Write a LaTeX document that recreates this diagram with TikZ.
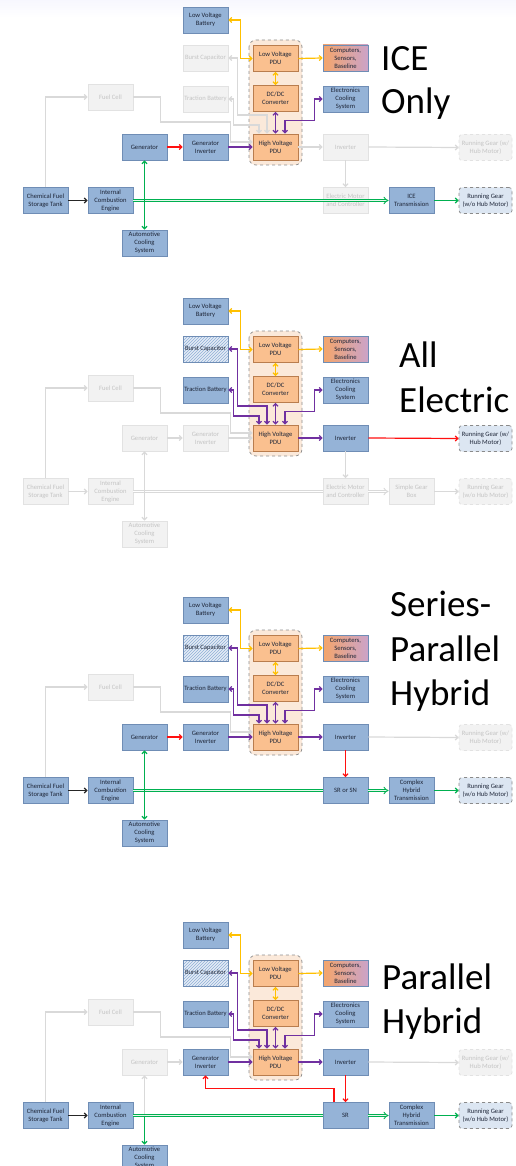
\documentclass[tikz,border=0pt]{standalone}
\usepackage{fontspec}
\setmainfont{Carlito}
\usetikzlibrary{arrows.meta,patterns}
\definecolor{actfill}{HTML}{95B3D7}
\definecolor{actdraw}{HTML}{6F8DB5}
\definecolor{txt}{HTML}{1E2638}
\definecolor{infill}{HTML}{F2F2F2}
\definecolor{indraw}{HTML}{E2E2E2}
\definecolor{intxt}{HTML}{C4C4C4}
\definecolor{orfill}{HTML}{FAC08F}
\definecolor{ordraw}{HTML}{B97D4E}
\definecolor{contfill}{HTML}{FBE9DA}
\definecolor{contdraw}{HTML}{8E8E8E}
\definecolor{rgfill}{HTML}{DCE6F2}
\definecolor{rgdraw}{HTML}{8A8A8A}
\definecolor{hatchbg}{HTML}{E4ECF6}
\definecolor{hatchcol}{HTML}{8FAFD6}
\definecolor{cyel}{HTML}{FFC000}
\definecolor{cpur}{HTML}{7030A0}
\definecolor{cred}{HTML}{FF1010}
\definecolor{cgrn}{HTML}{00B050}
\definecolor{cgrnl}{HTML}{E6F7EC}
\definecolor{cgry}{HTML}{D9D9D9}
\definecolor{cblk}{HTML}{262626}
\definecolor{gradL}{HTML}{F4A56B}
\definecolor{gradR}{HTML}{CBA3C8}
\newcommand\boxfont{\fontsize{6.6}{7.9}\selectfont}
\newcommand\labfont{\fontsize{37}{44}\selectfont}
\tikzset{
  box/.style={draw, minimum width=45pt, minimum height=26pt, inner sep=0pt, align=center, font=\boxfont, line width=0.7pt},
  act/.style={box, fill=actfill, draw=actdraw, text=txt},
  inact/.style={box, fill=infill, draw=indraw, text=intxt},
  orng/.style={box, fill=orfill, draw=ordraw, text=txt},
  grad/.style={box, left color=gradL, right color=gradR, draw=actdraw, text=txt},
  hatch/.style={box, draw=actdraw, text=txt, preaction={fill=hatchbg}, pattern=north east lines, pattern color=hatchcol},
  rgA/.style={box, minimum width=53pt, rounded corners=3pt, dashed, fill=rgfill, draw=rgdraw, text=txt},
  rgI/.style={box, minimum width=53pt, rounded corners=3pt, dashed, fill=infill, draw=indraw, text=intxt},
  cont/.style={rounded corners=7pt, dashed, fill=contfill, draw=contdraw, line width=0.7pt},
  lab/.style={anchor=base west, inner sep=0pt, font=\labfont, text=black},
  con/.style={line width=1.2pt},
  yel/.style={con, draw=cyel},
  pur/.style={con, draw=cpur},
  rd/.style={con, draw=cred},
  grn/.style={con, draw=cgrn},
  gry/.style={con, draw=cgry},
  blk/.style={con, draw=cblk},
  gdbl/.style={line width=0.9pt, draw=cgrn, double=cgrnl, double distance=1.6pt},
  ydbl/.style={line width=0.9pt, draw=cgry, double=white, double distance=1.6pt},
  >={Straight Barb[length=2.6pt,width=5pt]},
  slvb/.style={act}, sbc/.style={hatch}, stb/.style={act}, sfc/.style={inact},
  sgen/.style={act}, sgi/.style={act}, secs/.style={act}, sinv/.style={act},
  srgh/.style={rgI}, scf/.style={act}, sice/.style={act}, smot/.style={act},
  strans/.style={act}, srgo/.style={rgA}, sacs/.style={act}
}
\newcommand\panelnodes[3]{%
  \draw[cont] (249,40) rectangle (302,165);
  \node[slvb] (#1lvb) at (205.5,20) {Low Voltage\\Battery};
  \node[sbc] (#1bc) at (205.5,58) {Burst Capacitor};
  \node[stb] (#1tb) at (205.5,99) {Traction Battery};
  \node[sfc] (#1fc) at (110.5,97) {Fuel Cell};
  \node[sgen] (#1gen) at (144.5,147) {Generator};
  \node[sgi] (#1gi) at (205.5,147) {Generator\\Inverter};
  \node[orng] (#1lvp) at (275.5,58.5) {Low Voltage\\PDU};
  \node[orng] (#1dc) at (275.5,98.5) {DC/DC\\Converter};
  \node[orng] (#1hv) at (275.5,147) {High Voltage\\PDU};
  \node[grad] (#1comp) at (345.5,58) {Computers,\\Sensors,\\Baseline};
  \node[secs] (#1ecs) at (345.5,99) {Electronics\\Cooling\\System};
  \node[sinv] (#1inv) at (345.5,147) {Inverter};
  \node[srgh] (#1rgh) at (485.5,147.5) {Running Gear (w/\\Hub Motor)};
  \node[scf] (#1cf) at (45.5,200.5) {Chemical Fuel\\Storage Tank};
  \node[sice] (#1ice) at (110.5,200.5) {Internal\\Combustion\\Engine};
  \node[smot] (#1mot) at (345.5,200.5) {#2};
  \node[strans] (#1tr) at (411.5,200.5) {#3};
  \node[srgo] (#1rgo) at (485.5,200.5) {Running Gear\\(w/o Hub Motor)};
  \node[sacs] (#1acs) at (144.5,243) {Automotive\\Cooling\\System};
  \draw[yel,<->] (#1lvb.east) -- ++(12,0) |- (#1lvp.west);
  \draw[yel,->] (#1lvp.east) -- (#1comp.west);
  \draw[yel,<->] (#1lvp.south) -- (#1dc.north);
  \draw[pur,<->] (#1dc.south) -- (#1hv.north);
  \draw[pur,<->] ([xshift=9.5pt]#1hv.north) -- ++(0,-13) -- ++(29.5,0) |- (#1ecs.west);
  \draw[gry,->] (#1cf.north) |- (#1fc.west);
  \draw[gry,->] (#1fc.east) -- ++(27,0) -- ++(0,25) -- ++(70,0) |- ([yshift=5pt]#1hv.west);
}
\newcommand\burstline[2]{%
  \draw[#2,<->] (#1bc.east) -- ++(9.5,0) -- ++(0,57) -| ([xshift=-8.5pt]#1hv.north);
  \draw[#2,<->] (#1tb.east) -- ++(5,0) -- ++(0,26) -| ([xshift=-16.5pt]#1hv.north);
}
\begin{document}
\begin{tikzpicture}[x=1pt,y=-1pt]
\useasboundingbox (0,0) rectangle (516,1166);
\clip (0,0) rectangle (516,1166);
\fill[white] (0,0) rectangle (516,1166);
\shade[top color=black!12!blue!3!white, bottom color=white] (0,0) rectangle (516,18);
% ---------------- Panel 1: ICE Only
\begin{scope}[sbc/.style={inact}, stb/.style={inact}, sinv/.style={inact}, smot/.style={inact}]
  \panelnodes{a}{Electric Motor\\and Controller}{ICE\\Transmission}
  \burstline{a}{gry}
  \draw[rd,->] (agen.east) -- (agi.west);
  \draw[pur,->] (agi.east) -- (ahv.west);
  \draw[gry,->] (ahv.east) -- (ainv.west);
  \draw[gry,->] (ainv.east) -- (argh.west);
  \draw[gry,->] (ainv.south) -- (amot.north);
  \draw[blk,->] (acf.east) -- (aice.west);
  \draw[gdbl,-{Implies}] (aice.east) -- (atr.west);
  \draw[grn,->] (atr.east) -- (argo.west);
  \draw[grn,<->] (agen.south) -- (aacs.north);
  \node[lab] (alab1) at (381,71) {ICE};
  \node[lab] (alab2) at (381,114) {Only};
\end{scope}
% ---------------- Panel 2: All Electric
\begin{scope}[shift={(0,291)}, sgen/.style={inact}, sgi/.style={inact}, srgh/.style={rgA},
  scf/.style={inact}, sice/.style={inact}, smot/.style={inact}, strans/.style={inact},
  srgo/.style={rgI}, sacs/.style={inact}]
  \panelnodes{b}{Electric Motor\\and Controller}{Simple Gear\\Box}
  \burstline{b}{pur}
  \draw[gry,->] (bgen.east) -- (bgi.west);
  \draw[gry,->] (bgi.east) -- (bhv.west);
  \draw[pur,->] (bhv.east) -- (binv.west);
  \draw[rd,->] (binv.east) -- (brgh.west);
  \draw[gry,->] (binv.south) -- (bmot.north);
  \draw[gry,->] (bcf.east) -- (bice.west);
  \draw[ydbl] (bice.east) -- (bmot.west);
  \draw[ydbl,-{Implies}] (bmot.east) -- (btr.west);
  \draw[gry,->] (btr.east) -- (brgo.west);
  \draw[gry,<->] (bgen.south) -- (bacs.north);
  \node[lab] (blab1) at (399,76) {All};
  \node[lab] (blab2) at (399,121) {Electric};
\end{scope}
% ---------------- Panel 3: Series-Parallel Hybrid
\begin{scope}[shift={(0,590)}]
  \panelnodes{c}{SR or SN}{Complex\\Hybrid\\Transmission}
  \burstline{c}{pur}
  \draw[rd,->] (cgen.east) -- (cgi.west);
  \draw[pur,->] (cgi.east) -- (chv.west);
  \draw[pur,->] (chv.east) -- (cinv.west);
  \draw[gry,->] (cinv.east) -- (crgh.west);
  \draw[rd,->] (cinv.south) -- (cmot.north);
  \draw[blk,->] (ccf.east) -- (cice.west);
  \draw[gdbl] (cice.east) -- (cmot.west);
  \draw[gdbl,-{Implies}] (cmot.east) -- (ctr.west);
  \draw[grn,->] (ctr.east) -- (crgo.west);
  \draw[grn,<->] (cgen.south) -- (cacs.north);
  \node[lab] (clab1) at (390,26) {Series-};
  \node[lab] (clab2) at (390,71) {Parallel};
  \node[lab] (clab3) at (390,115) {Hybrid};
\end{scope}
% ---------------- Panel 4: Parallel Hybrid
\begin{scope}[shift={(0,915)}, sgen/.style={inact}]
  \panelnodes{d}{SR}{Complex\\Hybrid\\Transmission}
  \burstline{d}{pur}
  \draw[gry,->] (dgen.east) -- (dgi.west);
  \draw[pur,->] (dgi.east) -- (dhv.west);
  \draw[pur,->] (dhv.east) -- (dinv.west);
  \draw[gry,->] (dinv.east) -- (drgh.west);
  \draw[rd,->] (dinv.south) -- (dmot.north);
  \draw[rd,->] ([xshift=-11.5pt]dmot.north) -- ++(0,-14) -| (dgi.south);
  \draw[blk,->] (dcf.east) -- (dice.west);
  \draw[gry,->] (dgen.south |- dice.east) -- (dgen.south);
  \draw[gdbl] (dice.east) -- (dmot.west);
  \draw[gdbl,-{Implies}] (dmot.east) -- (dtr.west);
  \draw[grn,->] (dtr.east) -- (drgo.west);
  \draw[grn,->] (dacs.north |- dice.east) -- (dacs.north);
  \node[lab] (dlab1) at (382,74) {Parallel};
  \node[lab] (dlab2) at (382,118) {Hybrid};
\end{scope}
\end{tikzpicture}
\end{document}
